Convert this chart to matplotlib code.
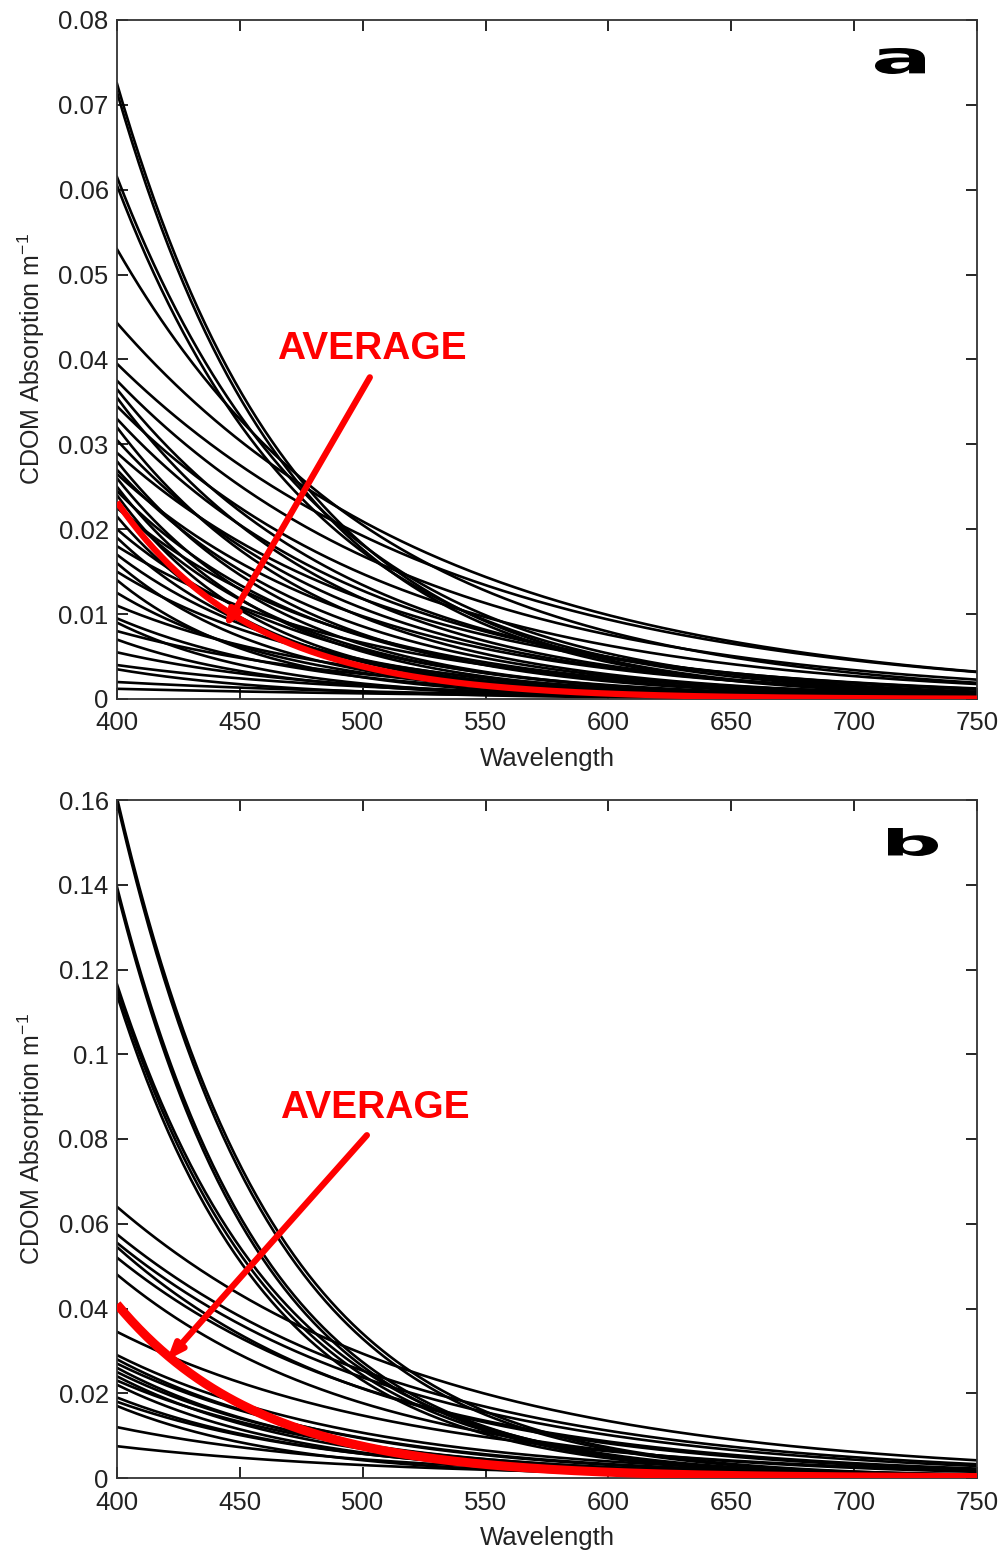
import numpy as np
import matplotlib
matplotlib.use("Agg")
import matplotlib.pyplot as plt
from matplotlib.textpath import TextPath
from matplotlib.patches import PathPatch
from matplotlib.font_manager import FontProperties
from matplotlib.transforms import Affine2D
from matplotlib.ticker import FuncFormatter

plt.rcParams['font.family'] = ['Liberation Sans', 'DejaVu Sans']
plt.rcParams['mathtext.fontset'] = 'custom'
plt.rcParams['mathtext.rm'] = 'Liberation Sans'
plt.rcParams['mathtext.default'] = 'regular'

# wavelength range (nm)
wl_min, wl_max = 400, 750

# panel a: absorption at 400 nm (m^-1) and spectral slope (nm^-1) of each sample
a400_a = [0.0725, 0.0715, 0.0615, 0.0605, 0.0530, 0.0443, 0.0395, 0.0375,
          0.0365, 0.0355, 0.0345, 0.0330, 0.0320, 0.0305, 0.0290, 0.0280,
          0.0270, 0.0265, 0.0260, 0.0250, 0.0245, 0.0240, 0.0230, 0.0225,
          0.0215, 0.0200, 0.0190, 0.0180, 0.0170, 0.0160, 0.0150, 0.0140,
          0.0125, 0.0110, 0.0095, 0.0090, 0.0080, 0.0070, 0.0055, 0.0040,
          0.0035, 0.0020, 0.0012]
slope_a = [0.0138, 0.0140, 0.0122, 0.0125, 0.0095, 0.0075, 0.0072, 0.0080,
           0.0100, 0.0110, 0.0085, 0.0095, 0.0120, 0.0105, 0.0090, 0.0130,
           0.0115, 0.0100, 0.0140, 0.0150, 0.0120, 0.0165, 0.0135, 0.0110,
           0.0160, 0.0125, 0.0145, 0.0100, 0.0130, 0.0155, 0.0120, 0.0170,
           0.0140, 0.0110, 0.0130, 0.0160, 0.0100, 0.0150, 0.0120, 0.0100,
           0.0140, 0.0080, 0.0060]
avg_a = (0.0232, 0.0180)

# panel b
a400_b = [0.1605, 0.1595, 0.1395, 0.1385, 0.1165, 0.1155, 0.1140, 0.0640,
          0.0575, 0.0555, 0.0545, 0.0520, 0.0480, 0.0345, 0.0290, 0.0280,
          0.0270, 0.0260, 0.0250, 0.0240, 0.0230, 0.0220, 0.0190, 0.0180,
          0.0170, 0.0120, 0.0075]
slope_b = [0.0155, 0.0158, 0.0163, 0.0166, 0.0152, 0.0156, 0.0160, 0.0078,
           0.0082, 0.0085, 0.0095, 0.0090, 0.0100, 0.0085, 0.0100, 0.0110,
           0.0105, 0.0120, 0.0115, 0.0125, 0.0110, 0.0130, 0.0120, 0.0115,
           0.0140, 0.0100, 0.0090]
avg_b = (0.0410, 0.0170)

xticks = [400, 450, 500, 550, 600, 650, 700, 750]
yticks_a = [0, 0.01, 0.02, 0.03, 0.04, 0.05, 0.06, 0.07, 0.08]
yticks_b = [0, 0.02, 0.04, 0.06, 0.08, 0.1, 0.12, 0.14, 0.16]

# arrow tail (text end) and tip, in data units
arrow_a = ((502.9, 0.0379), (443.9, 0.0084))
arrow_b = ((501.7, 0.0809), (420.3, 0.0278))

wl = np.arange(wl_min, wl_max + 1, 1.0)
W, H = 1005, 1551
fig = plt.figure(figsize=(W / 100, H / 100), dpi=100)
fig.patch.set_facecolor('white')

txtcol = '#222222'


def wide_letter(ch, box):
    # draw a heavy letter stretched to fill a pixel box (x0, y0, x1, y1, top-down)
    tp = TextPath((0, 0), ch, size=1, prop=FontProperties(family='DejaVu Sans', weight='bold'))
    ext = tp.get_extents()
    x0, y0, x1, y1 = box
    sx = (x1 - x0) / W / ext.width
    sy = (y1 - y0) / H / ext.height
    tr = Affine2D().translate(-ext.x0, -ext.y0).scale(sx, sy).translate(x0 / W, 1 - y1 / H) + fig.transFigure
    fig.patches.append(PathPatch(tp, transform=tr, facecolor='black', edgecolor='none'))


def panel(rect, a400, slope, avg, yticks, arrow, txtpos, letter, letterbox, redlw):
    ax = fig.add_axes(rect)
    for a0, s in zip(a400, slope):
        ax.plot(wl, a0 * np.exp(-s * (wl - wl_min)), '-', color='black', lw=1.9)
    ax.plot(wl, avg[0] * np.exp(-avg[1] * (wl - wl_min)), '-', color='#ff0000',
            lw=redlw, zorder=5, solid_capstyle='butt')
    ax.set_xlim(wl_min, wl_max)
    ax.set_ylim(yticks[0], yticks[-1])
    ax.set_xticks(xticks)
    ax.set_yticks(yticks)
    ax.yaxis.set_major_formatter(FuncFormatter(lambda v, p: '%g' % v))
    ax.tick_params(direction='in', length=8, width=1.2, top=True, right=True,
                   labelsize=18.5, labelcolor=txtcol)
    ax.tick_params(axis='x', pad=9)
    ax.tick_params(axis='y', pad=6)
    for sp in ax.spines.values():
        sp.set_linewidth(1.3)
        sp.set_color('#333333')
    ax.set_xlabel('Wavelength', fontsize=18.5, color=txtcol, labelpad=8)
    ax.set_ylabel('CDOM Absorption m$^{-1}$', fontsize=18, color=txtcol, labelpad=8)
    ax.annotate('', xy=arrow[1], xytext=arrow[0],
                arrowprops=dict(arrowstyle='-|>,head_length=0.9,head_width=0.35',
                                color='#ff0000', lw=4.5, shrinkA=0, shrinkB=0),
                zorder=6)
    ax.text(txtpos[0], txtpos[1], 'AVERAGE', color='#ff0000', fontsize=28,
            fontweight='bold', ha='center', va='center', transform=None)
    wide_letter(letter, letterbox)
    return ax


def frac_rect(left, top, right, bottom):
    return [left / W, 1 - bottom / H, (right - left) / W, (bottom - top) / H]


panel(frac_rect(117, 20, 977, 699), a400_a, slope_a, avg_a, yticks_a, arrow_a,
      (372, H - 349), 'a', (875, 48, 925, 74), 4.5)
panel(frac_rect(117, 800, 977, 1478), a400_b, slope_b, avg_b, yticks_b, arrow_b,
      (375, H - 1108), 'b', (888, 828, 938, 856), 6.5)

fig.savefig('out.png', dpi=100)
